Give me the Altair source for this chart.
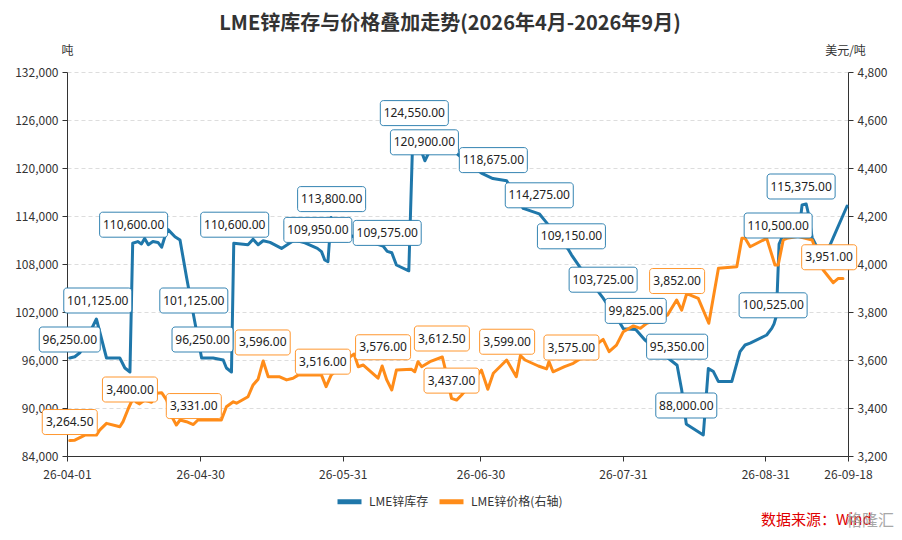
import altair as alt
import pandas as pd

TITLE = "LME锌库存与价格叠加走势(2026年4月-2026年9月)"
SERIES = ["LME锌库存", "LME锌价格(右轴)"]
LEFT_UNIT = "吨"
RIGHT_UNIT = "美元/吨"
SOURCE = "数据来源：Wind"
WATERMARK = "格隆汇"

BLUE = "#1f77aa"
ORANGE = "#ff8c19"

x_ticks = ["2026-04-01", "2026-04-30", "2026-05-31", "2026-06-30",
           "2026-07-31", "2026-08-31", "2026-09-18"]
left_ticks = list(range(84000, 132001, 6000))
right_ticks = list(range(3200, 4801, 200))

# days since 2026-04-01
inv_days = [0.6, 1.7, 2.8, 6.4, 8.6, 11.5, 12.6, 13.7, 14.3, 15.4, 16.2, 16.9, 17.7,
            18.7, 19.8, 20.6, 21.4, 22.0, 23.5, 24.6, 26.0, 27.7, 29.3, 31.8, 34.0,
            34.7, 35.8, 36.3, 39.4, 40.5, 41.6, 42.7, 44.2, 46.7, 49.5, 51.8, 54.5,
            55.4, 56.1, 56.8, 57.5, 58.5, 62.0, 68.8, 69.7, 70.7, 71.7, 74.4, 75.3,
            77.4, 77.9, 79.0, 84.4, 90.2, 92.7, 95.7, 99.3, 102.8, 104.2, 109.1,
            109.8, 111.6, 116.7, 120.4, 121.1, 123.8, 125.8, 132.8, 133.8, 134.8,
            135.1, 138.5, 139.6, 140.7, 141.8, 144.7, 146.5, 147.6, 148.7, 152.3,
            153.4, 153.9, 154.4, 155.0, 156.0, 159.4, 160.0, 160.9, 161.3, 162.2,
            164.5, 166.1, 169.8]
inv_values = [96250, 96400, 96900, 101125, 96250, 96250, 95000, 94500, 110600, 110800,
              110500, 111200, 110400, 110800, 110700, 110100, 111600, 112300, 111400,
              111000, 106400, 101125, 96250, 96250, 96000, 95000, 94500, 110600, 110400,
              111100, 110400, 110900, 110700, 109950, 111000, 110650, 109950, 109550,
              108500, 108300, 113800, 111500, 111500, 110250, 109575, 109400, 107875,
              107150, 124550, 121700, 120900, 122200, 122000, 119350, 118675, 118400,
              114950, 114275, 113300, 109850, 109150, 107650, 103725, 100600, 99900,
              99825, 98500, 95350, 92250, 88000, 87875, 86625, 94950, 94550, 93300,
              93300, 97050, 97875, 98100, 99125, 99950, 100525, 101500, 110500, 111800,
              112300, 115375, 115500, 114500, 111300, 108700, 110400, 115250]

price_days = [0.6, 1.7, 3.9, 6.4, 7.1, 8.6, 11.5, 12.2, 13.4, 14.5, 15.1, 15.8, 16.9,
              18.4, 19.5, 20.6, 21.7, 22.8, 23.8, 24.6, 26.0, 27.5, 28.5, 33.6, 34.7,
              36.2, 36.9, 39.4, 40.5, 41.6, 42.7, 43.8, 46.3, 47.8, 49.2, 50.3, 55.4,
              56.4, 57.5, 61.7, 62.5, 63.4, 64.5, 67.7, 68.6, 69.6, 70.7, 71.7, 75.0,
              75.7, 76.4, 77.2, 79.0, 81.7, 82.3, 83.7, 84.8, 85.9, 90.2, 91.6, 92.8,
              95.7, 97.8, 98.7, 99.7, 102.6, 104.4, 104.9, 105.8, 108.3, 110.2, 111.3,
              115.6, 116.7, 118.0, 119.6, 121.1, 123.3, 124.8, 126.2, 130.7, 132.7,
              133.8, 134.9, 137.4, 139.7, 141.8, 145.8, 146.9, 147.6, 148.7, 152.3,
              154.1, 154.8, 155.9, 156.7, 159.0, 162.2, 164.6, 166.8, 167.9, 168.9]
price_values = [3264.5, 3266, 3287, 3287, 3308, 3336, 3322, 3343, 3400, 3445, 3424, 3417,
                3433, 3424, 3461, 3464, 3433, 3364, 3329, 3350, 3343, 3331, 3350, 3350,
                3405, 3426, 3420, 3447, 3496, 3520, 3596, 3530, 3530, 3517, 3524, 3537,
                3537, 3489, 3537, 3614, 3625, 3572, 3579, 3524, 3575, 3517, 3475, 3558,
                3561, 3551, 3593, 3572, 3593, 3612.5, 3565, 3440, 3433, 3454, 3558, 3478,
                3545, 3600, 3530, 3619, 3600, 3575, 3563, 3593, 3551, 3572, 3586, 3600,
                3670, 3686, 3635, 3662, 3718, 3742, 3732, 3753, 3787, 3850, 3808, 3877,
                3857, 3753, 3982, 3989, 4107, 4107, 4072, 4107, 3996, 3996, 4100, 4107,
                4115, 4100, 3975, 3922, 3940, 3940]

inv_label_days = [0.6, 6.7, 14.5, 27.6, 29.5, 36.5, 54.6, 57.6, 69.7, 75.6, 77.8, 92.8,
                  102.8, 109.8, 116.7, 123.8, 132.8, 134.8, 153.7, 154.8, 159.8]
inv_label_values = [96250, 101125, 110600, 101125, 96250, 110600, 109950, 113800, 109575,
                    124550, 120900, 118675, 114275, 109150, 103725, 99825, 95350, 88000,
                    100525, 110500, 115375]

price_label_days = [0.6, 13.7, 27.6, 42.6, 55.7, 68.8, 81.6, 83.7, 95.8, 109.8, 132.8, 165.9]
price_label_values = [3264.5, 3400, 3331, 3596, 3516, 3576, 3612.5, 3437, 3599, 3575,
                      3852, 3951]

START = pd.Timestamp(x_ticks[0])


def to_dates(days):
    return [START + pd.Timedelta(days=float(d)) for d in days]


def dt(s):
    t = pd.Timestamp(s)
    return alt.DateTime(year=t.year, month=t.month, date=t.day)


inv = pd.DataFrame({"date": to_dates(inv_days), "value": inv_values, "series": SERIES[0]})
price = pd.DataFrame({"date": to_dates(price_days), "value": price_values, "series": SERIES[1]})


def label_df(days, values):
    texts = [f"{v:,.2f}" for v in values]
    return pd.DataFrame({"date": to_dates(days), "value": values, "label": texts,
                         "chars": [len(t) for t in texts]})


inv_lab = label_df(inv_label_days, inv_label_values)
price_lab = label_df(price_label_days, price_label_values)

AX_FONT = "Noto Sans CJK SC"

x_enc = alt.X(
    "date:T",
    scale=alt.Scale(domain=[dt(x_ticks[0]), dt(x_ticks[-1])]),
    axis=alt.Axis(values=[dt(s) for s in x_ticks], format="%y-%m-%d", title=None,
                  grid=False, labelFlush=False, labelOverlap=False, tickSize=5,
                  labelPadding=8),
)

left_scale = alt.Scale(domain=[84000, 132000], nice=False, zero=False)
right_scale = alt.Scale(domain=[3200, 4800], nice=False, zero=False)

color_enc = alt.Color(
    "series:N",
    scale=alt.Scale(domain=SERIES, range=[BLUE, ORANGE]),
    legend=alt.Legend(orient="none", legendX=268, legendY=415, direction="horizontal",
                      title=None, symbolType="stroke", symbolStrokeWidth=5,
                      symbolSize=576, labelFont=AX_FONT, labelFontSize=12,
                      labelColor="#333", columnPadding=0, labelOffset=5),
)

inv_line = alt.Chart(inv).mark_line(strokeWidth=3, strokeJoin="round", strokeCap="round").encode(
    x=x_enc,
    y=alt.Y("value:Q", scale=left_scale,
            axis=alt.Axis(orient="left", values=left_ticks, format=",d", grid=True,
                          title=LEFT_UNIT, titleAngle=0, titleX=0, titleY=-22,
                          titleAlign="center", titleBaseline="middle", tickSize=5,
                          labelPadding=4)),
    color=color_enc,
)

price_line = alt.Chart(price).mark_line(strokeWidth=3, strokeJoin="round", strokeCap="round").encode(
    x=x_enc,
    y=alt.Y("value:Q", scale=right_scale,
            axis=alt.Axis(orient="right", values=right_ticks, format=",d", grid=False,
                          title=RIGHT_UNIT, titleAngle=0, titleX=-3, titleY=-22,
                          titleAlign="center", titleBaseline="middle", tickSize=5,
                          labelPadding=4)),
    color=color_enc,
)


def boxes(df, scale, color, chars, half):
    return alt.Chart(df).transform_filter(alt.datum.chars == chars).mark_rect(
        xOffset=-half, x2Offset=half, yOffset=-31, y2Offset=-6, fill="white",
        stroke=color, strokeWidth=1, strokeOpacity=0.9, cornerRadius=3,
    ).encode(
        x=x_enc, x2="date:T",
        y=alt.Y("value:Q", scale=scale, axis=None), y2="value:Q",
    )


def texts(df, scale):
    return alt.Chart(df).mark_text(dy=-18.5, font="Noto Sans", fontSize=12, color="#222",
                                   align="center", baseline="middle").encode(
        x=x_enc, y=alt.Y("value:Q", scale=scale, axis=None), text="label:N",
    )


title = alt.Chart(pd.DataFrame({"t": [TITLE]})).mark_text(
    font=AX_FONT, fontSize=20, fontWeight="bold", color="#333", align="center",
    baseline="middle").encode(x=alt.value(383), y=alt.value(-48), text="t:N")

source = alt.Chart(pd.DataFrame({"t": [SOURCE]})).mark_text(
    font=AX_FONT, fontSize=15, color="#e00000", align="left",
    baseline="middle").encode(x=alt.value(694), y=alt.value(448), text="t:N")

watermark = alt.Chart(pd.DataFrame({"t": [WATERMARK]})).mark_text(
    font=AX_FONT, fontSize=16, color="#999999", opacity=0.85, align="left",
    baseline="middle").encode(x=alt.value(779), y=alt.value(449), text="t:N")

chart = alt.layer(
    inv_line, price_line,
    boxes(inv_lab, left_scale, BLUE, 10, 34),
    boxes(inv_lab, left_scale, BLUE, 9, 30.5),
    boxes(price_lab, right_scale, ORANGE, 8, 27.5),
    texts(inv_lab, left_scale),
    texts(price_lab, right_scale),
    title, source, watermark,
).resolve_scale(y="independent").properties(
    width=781, height=384,
    autosize=alt.AutoSizeParams(type="none"),
    padding={"left": 59, "top": 64, "right": 46, "bottom": 76},
).configure_axis(
    labelFont=AX_FONT, labelFontSize=12, labelColor="#333",
    titleFont=AX_FONT, titleFontSize=12, titleColor="#333", titleFontWeight="normal",
    domainColor="#333", tickColor="#333", gridColor="#dddddd", gridDash=[4, 3],
).configure_view(strokeWidth=0)

chart.save("out.html", embed_options={"renderer": "svg", "actions": False})
